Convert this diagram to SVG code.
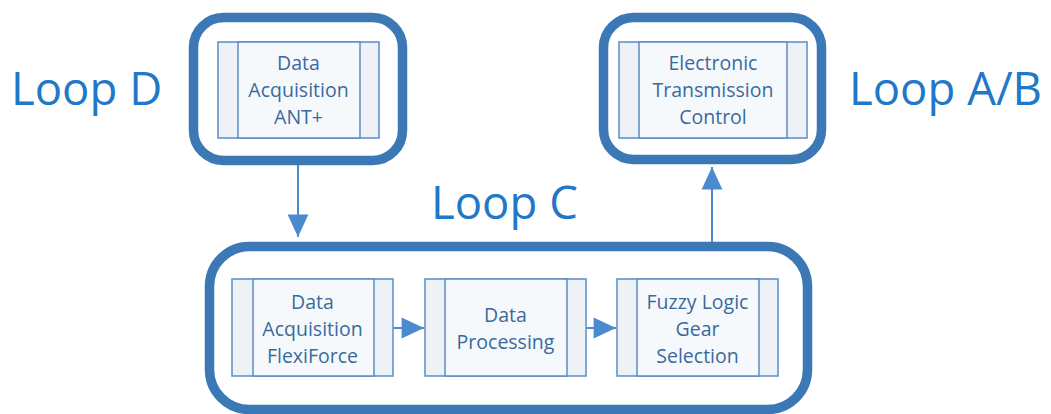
<svg xmlns="http://www.w3.org/2000/svg" width="1051" height="414" viewBox="0 0 1051 414">
  <defs>
    <style>
      .loop { fill: #ffffff; stroke: #3b78b5; stroke-width: 9.5; }
      .proc { fill: #f6f9fc; stroke: #5b8cc4; stroke-width: 1.5; }
      .side { fill: #eef2f7; stroke: #5b8cc4; stroke-width: 1.5; }
      .label { font-family: "Open Sans", "Liberation Sans", sans-serif; font-size: 19.5px; fill: #3a6a9c; text-anchor: middle; }
      .title { font-family: "Open Sans", "Liberation Sans", sans-serif; font-size: 45.5px; fill: #1f78c8; }
      .conn { stroke: #4a8ad0; stroke-width: 2; fill: none; }
    </style>
    <marker id="arrowBig" viewBox="0 0 10 10" refX="10" refY="5" markerWidth="16" markerHeight="16" markerUnits="userSpaceOnUse" orient="auto" overflow="visible">
      <path d="M-4,-1.5 L10,5 L-4,11.5 z" fill="#4a8ad0"/>
    </marker>
  </defs>

  <rect width="1051" height="414" fill="#ffffff"/>

  <!-- loop titles -->
  <text class="title" x="11" y="105">Loop D</text>
  <text class="title" x="431" y="219">Loop C</text>
  <text class="title" x="849" y="105">Loop A/B</text>

  <!-- Loop D -->
  <g id="loop-d">
    <rect class="loop" x="193.5" y="17.5" width="209" height="143" rx="30"/>
    <g id="ant-acquisition">
      <rect class="side" x="218" y="42" width="161" height="96"/>
      <rect class="proc" x="238" y="42" width="122" height="96"/>
      <text class="label" x="298.5" y="70">Data</text>
      <text class="label" x="298.5" y="97">Acquisition</text>
      <text class="label" x="298.5" y="124">ANT+</text>
    </g>
  </g>

  <!-- Loop A/B -->
  <g id="loop-ab">
    <rect class="loop" x="603.5" y="17.5" width="218" height="142" rx="30"/>
    <g id="transmission-control">
      <rect class="side" x="619" y="42" width="188" height="96"/>
      <rect class="proc" x="639" y="42" width="148" height="96"/>
      <text class="label" x="713" y="70">Electronic</text>
      <text class="label" x="713" y="97">Transmission</text>
      <text class="label" x="713" y="124">Control</text>
    </g>
  </g>

  <!-- Loop C -->
  <g id="loop-c">
    <rect class="loop" x="209.5" y="246.5" width="598" height="163" rx="40"/>
    <g id="flexiforce-acquisition">
      <rect class="side" x="232" y="279" width="161" height="97"/>
      <rect class="proc" x="253" y="279" width="121" height="97"/>
      <text class="label" x="312.5" y="309">Data</text>
      <text class="label" x="312.5" y="336">Acquisition</text>
      <text class="label" x="312.5" y="363">FlexiForce</text>
    </g>
    <g id="data-processing">
      <rect class="side" x="425" y="279" width="161" height="97"/>
      <rect class="proc" x="445" y="279" width="122" height="97"/>
      <text class="label" x="505.5" y="322">Data</text>
      <text class="label" x="505.5" y="349">Processing</text>
    </g>
    <g id="gear-selection">
      <rect class="side" x="617" y="279" width="161" height="97"/>
      <rect class="proc" x="637" y="279" width="122" height="97"/>
      <text class="label" x="697.5" y="309">Fuzzy Logic</text>
      <text class="label" x="697.5" y="336">Gear</text>
      <text class="label" x="697.5" y="363">Selection</text>
    </g>
  </g>

  <!-- connectors, drawn over the loop outlines -->
  <g id="connectors">
    <line class="conn" x1="298" y1="165" x2="298" y2="237" marker-end="url(#arrowBig)"/>
    <line class="conn" x1="712" y1="242" x2="712" y2="167" marker-end="url(#arrowBig)"/>
    <line class="conn" x1="393.5" y1="328" x2="424" y2="328" stroke-width="3" marker-end="url(#arrowBig)"/>
    <line class="conn" x1="586.5" y1="328" x2="616" y2="328" stroke-width="3" marker-end="url(#arrowBig)"/>
  </g>
</svg>
